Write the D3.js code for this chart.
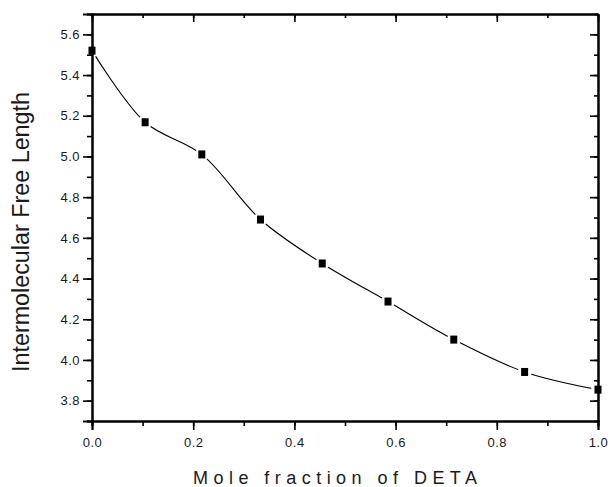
<!DOCTYPE html>
<html>
<head>
<meta charset="utf-8">
<script src="https://cdn.jsdelivr.net/npm/d3@7"></script>
<style>
  body { margin: 0; background: #fff; }
  svg { display: block; font-family: Arial, "Liberation Sans", sans-serif; }
  .tick text { font-size: 13px; fill: #1a1a1a; letter-spacing: 0.5px; }
</style>
</head>
<body>
<div class="chart"></div>
<script>
// mole fraction of DETA and the measured free length
let moleFraction = [0, 0.105, 0.217, 0.333, 0.455, 0.585, 0.715, 0.855, 1.0]
let freeLength = [5.52, 5.168, 5.01, 4.69, 4.474, 4.287, 4.100, 3.941, 3.854]

let xTicks = [0, 0.2, 0.4, 0.6, 0.8, 1.0]
let yTicks = [3.8, 4.0, 4.2, 4.4, 4.6, 4.8, 5.0, 5.2, 5.4, 5.6]

var margin = { top: 14, right: 13, bottom: 66, left: 92 };
var width = 611 - margin.left - margin.right;
var height = 487 - margin.top - margin.bottom;

let root = d3.select('.chart')
    .append('svg')
    .attr('width', 611)
    .attr('height', 487)

let svg = root.append('g')
    .attr('transform', `translate(${margin.left},${margin.top})`)

var xScale = d3.scaleLinear().domain([0, 1]).range([0, width]);
var yScale = d3.scaleLinear().domain([3.7, 5.7]).range([height, 0]);

let points = moleFraction.map((x, i) => ({ x: x, y: freeLength[i] }))

// smooth line through the points
let line = d3.line()
    .x(d => xScale(d.x))
    .y(d => yScale(d.y))
    .curve(d3.curveCatmullRom.alpha(0.5))

svg.append('path')
    .datum(points)
    .attr('d', line)
    .attr('fill', 'none')
    .attr('stroke', '#000')
    .attr('stroke-width', 1.1)

// gap between line and symbols
svg.selectAll('circle.gap')
    .data(points)
    .enter()
    .append('circle')
    .attr('class', 'gap')
    .attr('cx', d => xScale(d.x))
    .attr('cy', d => yScale(d.y))
    .attr('r', 7)
    .attr('fill', '#fff')

// minor ticks every 0.1
let xMinor = d3.range(0, 1.0001, 0.1)
let yMinor = d3.range(3.7, 5.7001, 0.1)

function styleAxis(g) {
    g.select('.domain').attr('stroke', '#000').attr('stroke-width', 2)
    g.selectAll('.tick line').attr('stroke', '#000').attr('stroke-width', 1.6)
}

// minor ticks first
svg.append('g').attr('transform', `translate(0,${height})`)
    .call(d3.axisBottom(xScale).tickValues(xMinor).tickSize(5).tickFormat(''))
    .call(styleAxis)
svg.append('g')
    .call(d3.axisTop(xScale).tickValues(xMinor).tickSizeInner(-4).tickSizeOuter(0).tickFormat(''))
    .call(styleAxis)
svg.append('g')
    .call(d3.axisLeft(yScale).tickValues(yMinor).tickSize(5).tickFormat(''))
    .call(styleAxis)
svg.append('g').attr('transform', `translate(${width},0)`)
    .call(d3.axisRight(yScale).tickValues(yMinor).tickSizeInner(-4).tickSizeOuter(0).tickFormat(''))
    .call(styleAxis)

// major ticks with labels
svg.append('g').attr('transform', `translate(0,${height})`)
    .call(d3.axisBottom(xScale).tickValues(xTicks).tickSize(9).tickPadding(8).tickFormat(d3.format('.1f')))
    .call(styleAxis)
svg.append('g')
    .call(d3.axisLeft(yScale).tickValues(yTicks).tickSize(9).tickPadding(3).tickFormat(d3.format('.1f')))
    .call(styleAxis)
svg.append('g')
    .call(d3.axisTop(xScale).tickValues(xTicks).tickSizeInner(-8).tickSizeOuter(0).tickFormat(''))
    .call(styleAxis)
svg.append('g').attr('transform', `translate(${width},0)`)
    .call(d3.axisRight(yScale).tickValues(yTicks).tickSizeInner(-8).tickSizeOuter(0).tickFormat(''))
    .call(styleAxis)

// symbols
svg.selectAll('rect.pt')
    .data(points)
    .enter()
    .append('rect')
    .attr('class', 'pt')
    .attr('x', d => xScale(d.x) - 3.5)
    .attr('y', d => yScale(d.y) - 4)
    .attr('width', 7)
    .attr('height', 8)
    .attr('fill', '#000')

// axis titles
root.append('text')
    .attr('transform', 'translate(29,232) rotate(-90)')
    .attr('text-anchor', 'middle')
    .attr('font-size', 23)
    .attr('textLength', 280)
    .attr('lengthAdjust', 'spacingAndGlyphs')
    .attr('fill', '#1a1a1a')
    .text('Intermolecular Free Length')

root.append('text')
    .attr('x', 335)
    .attr('y', 484)
    .attr('text-anchor', 'middle')
    .attr('font-size', 18)
    .attr('textLength', 284)
    .attr('lengthAdjust', 'spacing')
    .attr('fill', '#1a1a1a')
    .text('Mole fraction of DETA')
</script>
</body>
</html>
